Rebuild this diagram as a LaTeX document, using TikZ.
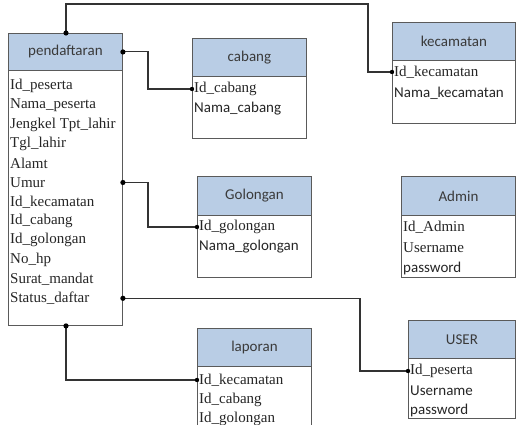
\documentclass[tikz,border=0pt]{standalone}
\usepackage{fontspec}
\setmainfont{Liberation Serif}
\newfontfamily\hdrfont{Carlito}
\definecolor{hdrblue}{HTML}{B9CDE5}
\definecolor{boxline}{HTML}{5A5A5A}
\definecolor{connline}{HTML}{333333}
\definecolor{hdrtext}{HTML}{3A3A3A}
\begin{document}
\begin{tikzpicture}[x=1pt,y=-1pt,
  hdr/.style={draw=boxline,line width=0.9pt,fill=hdrblue,anchor=north west,inner sep=0pt,
    font=\hdrfont\fontsize{15}{17}\selectfont,text=hdrtext},
  bodybox/.style={draw=boxline,line width=0.9pt,fill=white,anchor=north west,inner sep=0pt},
  fld/.style={anchor=west,inner sep=1pt,font=\fontsize{15}{17}\selectfont,text=black!85},
  fldc/.style={anchor=west,inner sep=1pt,font=\hdrfont\fontsize{15}{17}\selectfont,text=black!85},
  conn/.style={draw=connline,line width=1.1pt},
  dot/.style={fill=black}]
\useasboundingbox (0,0) rectangle (516,425);
\clip (0,0) rectangle (516,425);
\fill[white] (0,0) rectangle (516,425);

% pendaftaran
\node[bodybox,minimum width=114pt,minimum height=255pt] (pendB) at (8,70) {};
\node[hdr,minimum width=114pt,minimum height=37pt] (pendH) at (8,33) {pendaftaran};
\node[fld] (p1) at (9,86) {Id\_peserta};
\node[fld] (p2) at (9,105.3) {Nama\_peserta};
\node[fld] (p3) at (9,124.6) {Jengkel Tpt\_lahir};
\node[fld] (p4) at (9,143.9) {Tgl\_lahir};
\node[fld] (p5) at (9,163.2) {Alamt};
\node[fld] (p6) at (9,182.5) {Umur};
\node[fld] (p7) at (9,201.8) {Id\_kecamatan};
\node[fld] (p8) at (9,221.1) {Id\_cabang};
\node[fld] (p9) at (9,240.4) {Id\_golongan};
\node[fld] (p10) at (9,259.7) {No\_hp};
\node[fld] (p11) at (9,279) {Surat\_mandat};
\node[fld] (p12) at (9,298.3) {Status\_daftar};

% cabang
\node[bodybox,minimum width=114pt,minimum height=62pt] (cabB) at (192,76) {};
\node[hdr,minimum width=114pt,minimum height=38pt] (cabH) at (192,38) {cabang};
\node[fld] (c1) at (193,89) {Id\_cabang};
\node[fldc] (c2) at (193,108.5) {Nama\_cabang};

% kecamatan
\node[bodybox,minimum width=123pt,minimum height=63pt] (kecB) at (392,60) {};
\node[hdr,minimum width=123pt,minimum height=38pt] (kecH) at (392,22) {kecamatan};
\node[fld] (k1) at (393,72) {Id\_kecamatan};
\node[fldc] (k2) at (393,93) {Nama\_kecamatan};

% Golongan
\node[bodybox,minimum width=114pt,minimum height=62pt] (golB) at (197,215) {};
\node[hdr,minimum width=114pt,minimum height=39pt] (golH) at (197,176) {Golongan};
\node[fld] (g1) at (198,227) {Id\_golongan};
\node[fldc] (g2) at (198,246.5) {Nama\_golongan};

% Admin
\node[bodybox,minimum width=114pt,minimum height=62pt] (admB) at (401,215) {};
\node[hdr,minimum width=114pt,minimum height=39pt] (admH) at (401,176) {Admin};
\node[fld] (a1) at (402,227) {Id\_Admin};
\node[fld] (a2) at (402,248) {Username};
\node[fldc] (a3) at (402,268.5) {password};

% USER
\node[bodybox,minimum width=107pt,minimum height=60pt] (usrB) at (408,358) {};
\node[hdr,minimum width=107pt,minimum height=38pt] (usrH) at (408,320) {USER};
\node[fld] (u1) at (409,371) {Id\_peserta};
\node[fldc] (u2) at (409,391) {Username};
\node[fldc] (u3) at (409,410) {password};

% laporan
\node[bodybox,minimum width=114pt,minimum height=70pt] (lapB) at (197,366) {};
\node[hdr,minimum width=114pt,minimum height=38pt] (lapH) at (197,328) {laporan};
\node[fld] (l1) at (198,380) {Id\_kecamatan};
\node[fld] (l2) at (198,399.5) {Id\_cabang};
\node[fld] (l3) at (198,419) {Id\_golongan};

% connector bends
\coordinate (topL) at (66,4);
\coordinate (topR) at (368,4);
\coordinate (cabX) at (148,0);
\coordinate (usrX) at (360,0);

% pendaftaran -> kecamatan
\draw[conn] (pendH.north -| topL) -- (topL) -- (topR) |- (kecB.west |- k1);
\fill[dot] (pendH.north -| topL) circle (2.6pt);
\fill[dot] (kecB.west |- k1) circle (2.2pt);

% pendaftaran -> cabang
\draw[conn] (pendH.east) -| (cabX |- pendH.east) |- (cabB.west |- c1);
\draw[conn] (cabX |- pendH.east) |- (cabB.west |- c1);
\fill[dot] (pendH.east) circle (2.6pt);
\fill[dot] (cabB.west |- c1) circle (2.2pt);

% pendaftaran -> Golongan
\draw[conn] (pendB.east |- p6) -- (cabX |- p6) |- (golB.west |- g1);
\fill[dot] (pendB.east |- p6) circle (2.6pt);
\fill[dot] (golB.west |- g1) circle (2.2pt);

% pendaftaran -> USER
\draw[conn] (pendB.east |- p12) -- (usrX |- p12) |- (usrB.west |- u1);
\fill[dot] (pendB.east |- p12) circle (2.6pt);
\fill[dot] (usrB.west |- u1) circle (2.2pt);

% pendaftaran -> laporan
\draw[conn] (pendB.south -| topL) |- (lapB.west |- l1);
\fill[dot] (pendB.south -| topL) circle (2.6pt);
\fill[dot] (lapB.west |- l1) circle (2.2pt);
\end{tikzpicture}
\end{document}
